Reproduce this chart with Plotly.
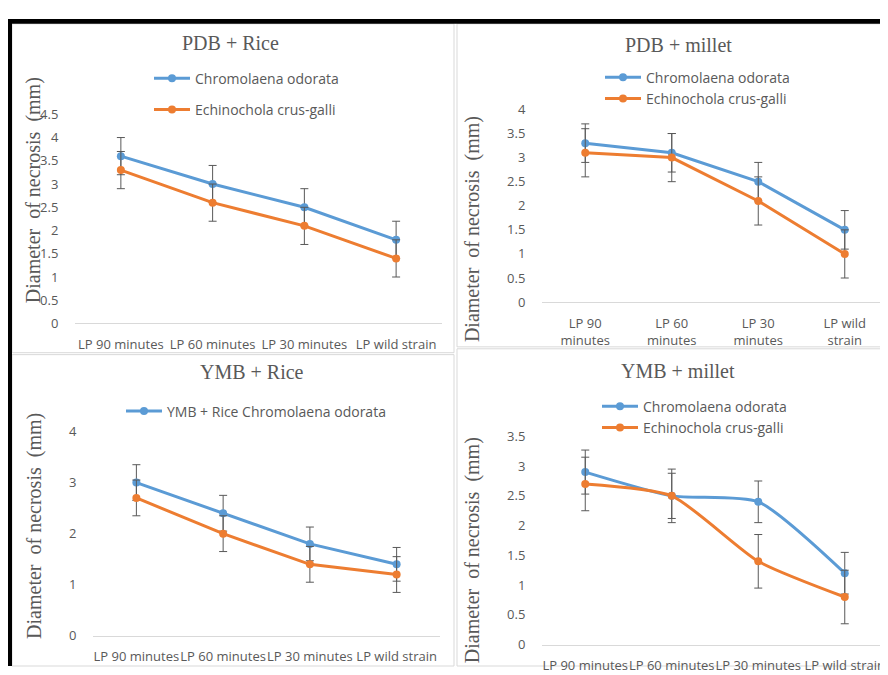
import plotly.graph_objects as go

# The page body keeps its default 8px margin, so the figure is drawn 8px in
# from the top-left corner; sizes and coordinates below account for that.
PAGE_W, PAGE_H = 888, 675
OFF = 8
W, H = PAGE_W - OFF, PAGE_H - OFF

categories = ["LP 90 minutes", "LP 60 minutes", "LP 30 minutes", "LP wild strain"]
tick_labels_single = ["LP 90 minutes", "LP 60 minutes", "LP 30 minutes", "LP wild strain"]
tick_labels_wrapped = ["LP 90<br>minutes", "LP 60<br>minutes", "LP 30<br>minutes", "LP wild<br>strain"]

# PDB + Rice
pdb_rice_chromo = [3.6, 3.0, 2.5, 1.8]
pdb_rice_chromo_err = [0.4, 0.4, 0.4, 0.4]
pdb_rice_echino = [3.3, 2.6, 2.1, 1.4]
pdb_rice_echino_err = [0.4, 0.4, 0.4, 0.4]

# PDB + millet
pdb_millet_chromo = [3.3, 3.1, 2.5, 1.5]
pdb_millet_chromo_err = [0.4, 0.4, 0.4, 0.4]
pdb_millet_echino = [3.1, 3.0, 2.1, 1.0]
pdb_millet_echino_err = [0.5, 0.5, 0.5, 0.5]

# YMB + Rice
ymb_rice_chromo = [3.0, 2.4, 1.8, 1.4]
ymb_rice_chromo_err = [0.35, 0.35, 0.33, 0.33]
ymb_rice_echino = [2.7, 2.0, 1.4, 1.2]
ymb_rice_echino_err = [0.35, 0.35, 0.35, 0.35]

# YMB + millet
ymb_millet_chromo = [2.9, 2.5, 2.4, 1.2]
ymb_millet_chromo_err = [0.37, 0.45, 0.35, 0.35]
ymb_millet_echino = [2.7, 2.5, 1.4, 0.8]
ymb_millet_echino_err = [0.45, 0.38, 0.45, 0.45]

BLUE = "#5B9BD5"
ORANGE = "#ED7D31"
GRAY = "#595959"
SERIF = "Liberation Serif, Times New Roman, serif"
SANS = "Open Sans, sans-serif"


def fx(px):
    return max(0.0, min(1.0, (px - OFF) / W))


def fy(py):
    return max(0.0, min(1.0, 1 - (py - OFF) / H))


fig = go.Figure()


def add_series(idx, y, err, color, name, legend, showlegend=True, shape="linear"):
    sfx = "" if idx == 1 else str(idx)
    fig.add_trace(go.Scatter(
        x=categories, y=y, name=name, mode="lines+markers",
        line=dict(color=color, width=3, shape=shape, smoothing=0.6),
        marker=dict(color=color, size=8, symbol="circle"),
        error_y=dict(type="data", array=err, visible=True, color=GRAY, thickness=1, width=4),
        xaxis="x" + sfx, yaxis="y" + sfx,
        legend=legend, legendgroup=name + str(idx), showlegend=showlegend,
    ))


add_series(1, pdb_rice_chromo, pdb_rice_chromo_err, BLUE, "Chromolaena odorata", "legend")
add_series(1, pdb_rice_echino, pdb_rice_echino_err, ORANGE, "Echinochola crus-galli", "legend")
add_series(2, pdb_millet_chromo, pdb_millet_chromo_err, BLUE, "Chromolaena odorata", "legend2")
add_series(2, pdb_millet_echino, pdb_millet_echino_err, ORANGE, "Echinochola crus-galli", "legend2")
add_series(3, ymb_rice_chromo, ymb_rice_chromo_err, BLUE, "YMB + Rice Chromolaena odorata", "legend3")
add_series(3, ymb_rice_echino, ymb_rice_echino_err, ORANGE, "YMB + Rice Echinochola crus-galli", "legend3", showlegend=False)
add_series(4, ymb_millet_chromo, ymb_millet_chromo_err, BLUE, "Chromolaena odorata", "legend4", shape="spline")
add_series(4, ymb_millet_echino, ymb_millet_echino_err, ORANGE, "Echinochola crus-galli", "legend4", shape="spline")

# panel geometry in page pixels: (x0, x1, ytop, ybottom, ymax, dtick, ticklabels)
panels = [
    (75, 442, 108, 323, 4.5, 0.5, tick_labels_single),
    (542, 888, 103, 301, 4.0, 0.5, tick_labels_wrapped),
    (93, 440, 434, 644, 4.0, 1.0, tick_labels_single),
    (542, 888, 439, 653, 3.5, 0.5, tick_labels_single),
]

layout = dict(
    width=W, height=H, margin=dict(l=0, r=0, t=0, b=0),
    paper_bgcolor="white", plot_bgcolor="white", showlegend=True,
)

for i, (x0, x1, yt, yb, ymax, dt, tl) in enumerate(panels, start=1):
    sfx = "" if i == 1 else str(i)
    layout["xaxis" + sfx] = dict(
        domain=[fx(x0), fx(x1)], anchor="y" + sfx, type="category",
        range=[-0.5, 3.5], tickmode="array", tickvals=categories, ticktext=tl,
        tickangle=0, showgrid=False, zeroline=False,
        showline=True, linecolor="#D9D9D9", linewidth=1,
        ticks="outside", ticklen=9, tickcolor="rgba(0,0,0,0)",
        tickfont=dict(family=SANS, size=13, color=GRAY), fixedrange=True,
    )
    layout["yaxis" + sfx] = dict(
        domain=[fy(yb), fy(yt)], anchor="x" + sfx, range=[0, ymax], dtick=dt,
        tick0=0, showgrid=False, zeroline=False, showline=False,
        ticks="outside", ticklen=13, tickcolor="rgba(0,0,0,0)",
        tickfont=dict(family=SANS, size=13, color=GRAY), fixedrange=True,
    )

legend_pos = [("legend", 149, 55, 10), ("legend2", 600, 54, 0), ("legend3", 121, 397, 0), ("legend4", 597, 392, 0)]
for name, lx, ly, gap in legend_pos:
    layout[name] = dict(
        x=fx(lx), y=fy(ly), xanchor="left", yanchor="top",
        bgcolor="rgba(0,0,0,0)", borderwidth=0,
        font=dict(family=SANS, size=14, color=GRAY),
        itemwidth=36, traceorder="grouped", tracegroupgap=gap,
        itemclick=False, itemdoubleclick=False,
    )

fig.update_layout(**layout)

titles = [("PDB + Rice", 230, 35), ("PDB + millet", 678, 37), ("YMB + Rice", 252, 373), ("YMB + millet", 678, 372)]
for t, x, y in titles:
    fig.add_annotation(text=t, x=fx(x), y=fy(y), xref="paper", yref="paper",
                       showarrow=False, xanchor="center", yanchor="middle",
                       font=dict(family=SERIF, size=20, color=GRAY))

ytitle = "Diameter\u00a0\u00a0of necrosis\u00a0\u00a0(mm)"
for x, y in [(33, 186), (472, 226), (35, 531), (472, 556)]:
    fig.add_annotation(text=ytitle, x=fx(x), y=fy(y), xref="paper", yref="paper",
                       showarrow=False, xanchor="center", yanchor="middle", textangle=-90,
                       font=dict(family=SERIF, size=20, color=GRAY))

shapes = []
# light panel borders
for (x0, y0, x1, y1) in [(12, 15, 454, 353), (457, 15, 887.5, 347), (12, 355, 454, 675), (457, 349, 887.5, 675)]:
    shapes.append(dict(type="rect", xref="paper", yref="paper", x0=fx(x0), x1=fx(x1), y0=fy(y1), y1=fy(y0),
                       line=dict(color="#D9D9D9", width=1), fillcolor="rgba(0,0,0,0)", layer="below"))
# black frame
shapes.append(dict(type="rect", xref="paper", yref="paper", x0=fx(8), x1=fx(888), y0=fy(15), y1=fy(10),
                   line=dict(width=0), fillcolor="black"))
shapes.append(dict(type="rect", xref="paper", yref="paper", x0=fx(8), x1=fx(12), y0=fy(675), y1=fy(10),
                   line=dict(width=0), fillcolor="black"))
fig.update_layout(shapes=shapes)

fig.write_html("out.html", config={"displayModeBar": False})
